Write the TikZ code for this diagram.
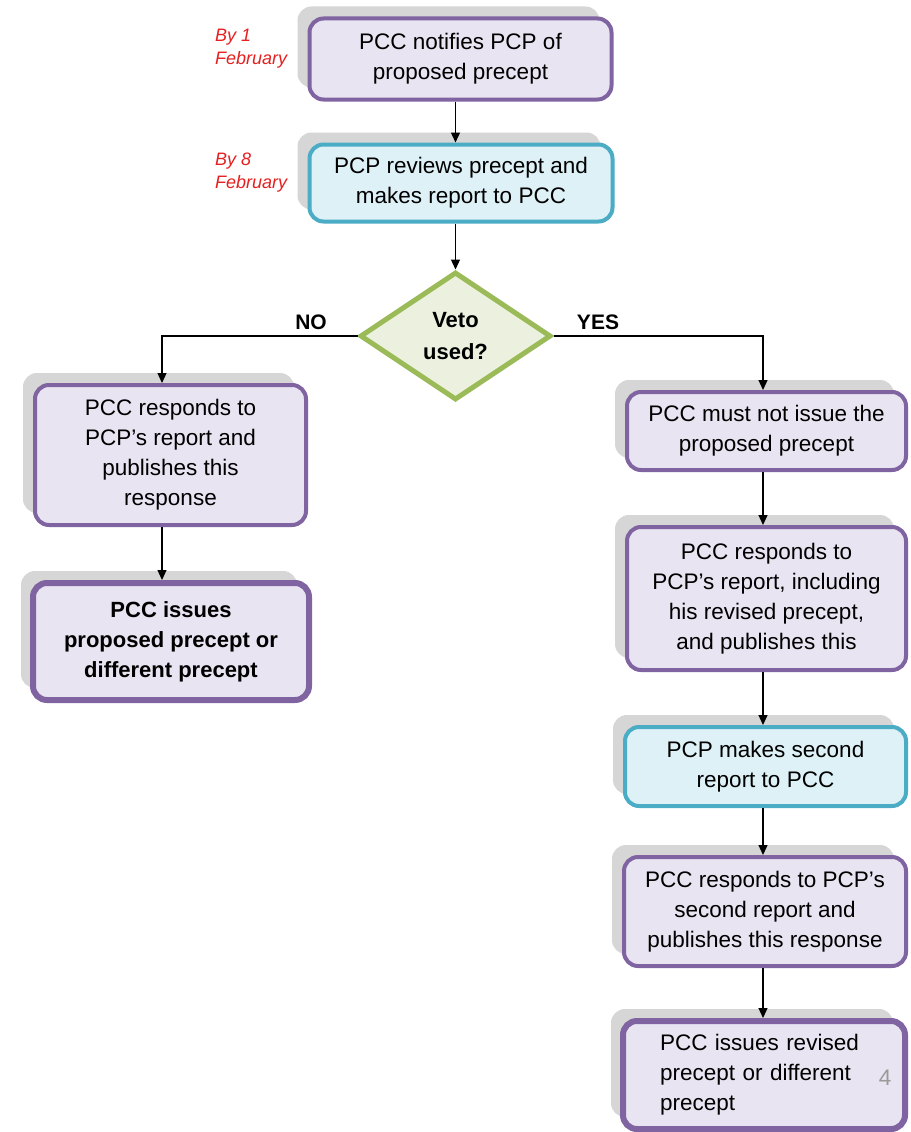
\documentclass[tikz,border=0pt]{standalone}
\usepackage{fontspec}
\setmainfont{Liberation Sans}
\usetikzlibrary{shapes.geometric,arrows.meta,shadows}
\definecolor{purp}{HTML}{8064A2}
\definecolor{lav}{HTML}{E9E4F1}
\definecolor{tealb}{HTML}{4BACC6}
\definecolor{aqua}{HTML}{DDF1F7}
\definecolor{grn}{HTML}{9BBB59}
\definecolor{lgrn}{HTML}{EBF1DE}
\definecolor{lbl}{HTML}{E62020}
\definecolor{shd}{HTML}{D6D6D6}
\definecolor{pgc}{HTML}{9A9A9A}
\tikzset{
 box/.style={rectangle, rounded corners=14pt, inner sep=0pt, align=center,
   font=\fontsize{22.5}{30}\selectfont,
   general shadow={fill=shd, draw=none, shadow xshift=-12pt, shadow yshift=12pt}},
 pcc/.style={box, draw=purp, fill=lav, line width=4pt},
 pccend/.style={pcc, line width=6pt},
 pcp/.style={box, draw=tealb, fill=aqua, line width=4pt},
 dec/.style={diamond, draw=grn, fill=lgrn, line width=5pt, inner sep=0pt,
   font=\bfseries\fontsize{22}{32}\selectfont, align=center},
 arr/.style={line width=1.2pt, -{Triangle[length=10pt,width=9pt]}},
 datelbl/.style={text=lbl, font=\itshape\fontsize{18}{23}\selectfont, align=left, anchor=west, inner sep=0pt},
 branch/.style={font=\bfseries\fontsize{21}{25}\selectfont, inner sep=0pt},
}
\begin{document}
\begin{tikzpicture}[x=1pt,y=-1pt]
\useasboundingbox (0,0) rectangle (910,1132);
\fill[white] (0,0) rectangle (910,1132);
% top column
\node[pcc, minimum width=302pt, minimum height=81pt] (b1) at (460.5,59) {PCC notifies PCP of\\proposed precept};
\node[pcp, minimum width=303pt, minimum height=77pt] (b2) at (461,183) {PCP reviews precept and\\makes report to PCC};
\node[dec, minimum width=191pt, minimum height=128pt] (d) at (455.5,336) {Veto\\used?};
\node[datelbl] (t1) at (215,48.5) {By 1\\February};
\node[datelbl] (t2) at (215,172.5) {By 8\\February};
\node[branch] (no) at (311,322) {NO};
\node[branch] (yes) at (598,322) {YES};
% left column
\node[pcc, minimum width=271pt, minimum height=140pt] (b3) at (170.5,455) {PCC responds to\\PCP’s report and\\publishes this\\response};
\node[pccend, minimum width=276pt, minimum height=117pt, font=\bfseries\fontsize{22}{30}\selectfont] (b4) at (171,641.5) {PCC issues\\proposed precept or\\different precept};
% right column
\node[pcc, minimum width=279pt, minimum height=78pt] (b5) at (766.5,431) {PCC must not issue the\\proposed precept};
\node[pcc, minimum width=279pt, minimum height=143pt] (b6) at (766.5,598.5) {PCC responds to\\PCP’s report, including\\his revised precept,\\and publishes this};
\node[pcp, minimum width=281pt, minimum height=79pt] (b7) at (765.5,766.5) {PCP makes second\\report to PCC};
\node[pcc, minimum width=282pt, minimum height=109pt] (b8) at (765,911.5) {PCC responds to PCP’s\\second report and\\publishes this response};
\node[pccend, minimum width=282pt, minimum height=108pt, text width=208pt, align=left] (b9) at (764,1075) {PCC issues revised\\precept or different\\precept};
\node[text=pgc, font=\fontsize{22.5}{30}\selectfont, inner sep=0pt] (pg) at (885,1078) {4};
% connectors
\coordinate (cl) at (162,0);
\coordinate (cr) at (763,0);
\draw[arr] (b1.south -| d.north) -- (b2.north -| d.north);
\draw[arr] (b2.south -| d.north) -- (d.north);
\draw[arr] (d.west) -| (b3.north -| cl);
\draw[arr] (d.east) -| (b5.north -| cr);
\draw[arr] (b3.south -| cl) -- (b4.north -| cl);
\draw[arr] (b5.south -| cr) -- (b6.north -| cr);
\draw[arr] (b6.south -| cr) -- (b7.north -| cr);
\draw[arr] (b7.south -| cr) -- (b8.north -| cr);
\draw[arr] (b8.south -| cr) -- (b9.north -| cr);
\end{tikzpicture}
\end{document}
